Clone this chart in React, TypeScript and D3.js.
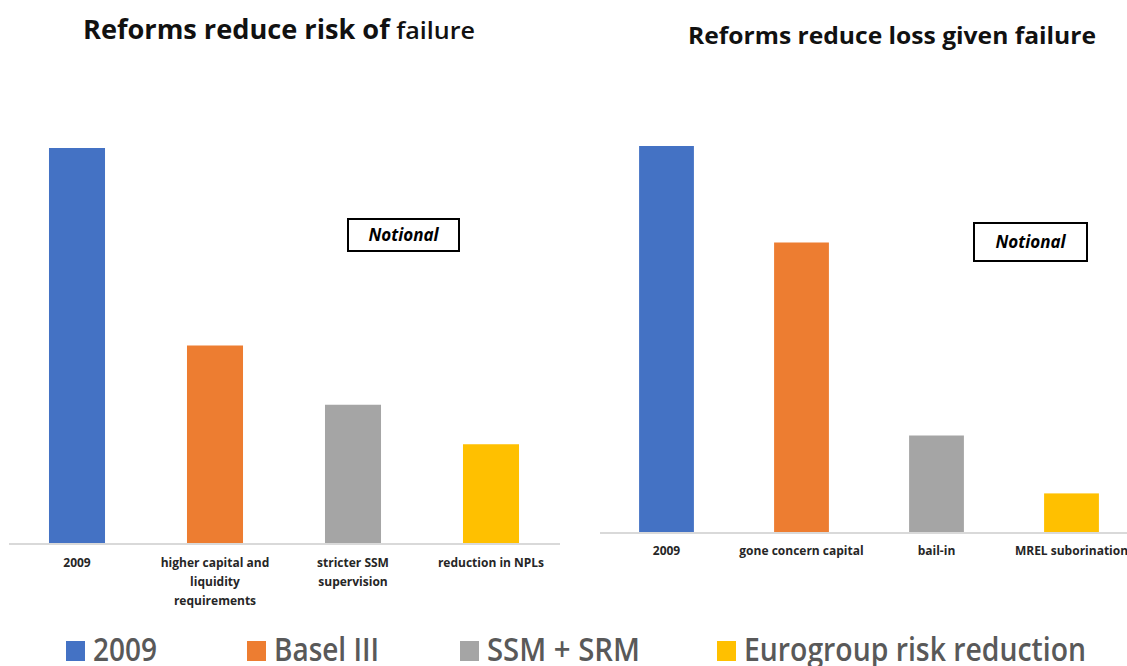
import { useMemo } from 'react';
import * as d3 from 'd3';

// Left panel: risk of failure (notional units, 2009 = 100)
const riskCategories = ['2009', 'higher capital and|liquidity|requirements', 'stricter SSM|supervision', 'reduction in NPLs'];
const riskValues = [100, 50, 35, 25];

// Right panel: loss given failure (notional units, 2009 = 100)
const lossCategories = ['2009', 'gone concern capital', 'bail-in', 'MREL suborination'];
const lossValues = [100, 75, 25, 10];

const seriesNames = ['2009', 'Basel III', 'SSM + SRM', 'Eurogroup risk reduction'];
const seriesColors = ['#4472C4', '#ED7D31', '#A5A5A5', '#FFC000'];

const W = 1127;
const H = 666;
const FONT = "'Open Sans', 'DejaVu Sans', sans-serif";

interface PanelProps {
  categories: string[];
  values: number[];
  x0: number;
  x1: number;
  base: number;
  top: number;
  labelY: number;
  title: React.ReactNode;
  titleX: number;
  titleY: number;
  titleWidth: number;
  titleSize: number;
  box: { x: number; y: number; w: number; h: number };
}

function Panel({ categories, values, x0, x1, base, top, labelY, title, titleX, titleY, titleWidth, titleSize, box }: PanelProps) {
  const x = useMemo(
    () => d3.scaleBand<string>().domain(categories).range([x0, x1]).paddingInner(0.594).paddingOuter(0.297),
    [categories, x0, x1]
  );
  const y = useMemo(() => d3.scaleLinear().domain([0, 100]).range([base, top]), [base, top]);

  return (
    <g>
      <text
        x={titleX}
        y={titleY}
        fontFamily={FONT}
        fontWeight={700}
        fontSize={titleSize}
        fill="#111"
        textLength={titleWidth}
        lengthAdjust="spacingAndGlyphs"
      >
        {title}
      </text>

      {categories.map((c, i) => (
        <rect
          key={c}
          x={x(c)}
          y={y(values[i])}
          width={x.bandwidth()}
          height={base - y(values[i])}
          fill={seriesColors[i]}
        />
      ))}

      {/* category axis */}
      <line x1={x0 + 1} x2={Math.min(x1, W)} y1={base + 1} y2={base + 1} stroke="#d9d9d9" strokeWidth={2} />

      {categories.map((c) => {
        const lines = c.split('|');
        const cx = (x(c) ?? 0) + x.bandwidth() / 2;
        return (
          <text key={c} x={cx} y={labelY} textAnchor="middle" fontFamily={FONT} fontWeight={700} fontSize={12} fill="#262626">
            {lines.map((l, j) => (
              <tspan key={j} x={cx} dy={j === 0 ? 0 : 19}>
                {l}
              </tspan>
            ))}
          </text>
        );
      })}

      {/* Notional box */}
      <rect x={box.x} y={box.y} width={box.w} height={box.h} fill="#fff" stroke="#000" strokeWidth={2} />
      <text
        x={box.x + box.w / 2}
        y={box.y + box.h / 2 + 6}
        textAnchor="middle"
        fontFamily={FONT}
        fontWeight={700}
        fontStyle="italic"
        fontSize={17}
        fill="#000"
      >
        Notional
      </text>
    </g>
  );
}

const legendX = [66, 247, 460, 717];
const legendTextWidths = [64, 105, 153, 342];

export default function App() {
  return (
    <div style={{ position: 'absolute', left: 0, top: 0, width: W, height: H, overflow: 'hidden', background: '#fff' }}>
      <svg width={W} height={H} style={{ display: 'block' }}>
        <rect width={W} height={H} fill="#fff" />
        <Panel
          categories={riskCategories}
          values={riskValues}
          x0={8}
          x1={560}
          base={543}
          top={148}
          labelY={567}
          title={
            <>
              Reforms reduce risk of
              <tspan fontWeight={600} fontSize={24}> failure</tspan>
            </>
          }
          titleX={83}
          titleY={39}
          titleWidth={392}
          titleSize={26}
          box={{ x: 348, y: 219, w: 111, h: 32 }}
        />
        <Panel
          categories={lossCategories}
          values={lossValues}
          x0={599}
          x1={1139}
          base={532}
          top={146}
          labelY={555}
          title="Reforms reduce loss given failure"
          titleX={688}
          titleY={44}
          titleWidth={408}
          titleSize={24}
          box={{ x: 974, y: 223, w: 113, h: 38 }}
        />

        {seriesNames.map((s, i) => (
          <g key={s}>
            <rect x={legendX[i]} y={641} width={19} height={20} fill={seriesColors[i]} />
            <text
              x={legendX[i] + 27}
              y={661}
              fontFamily={FONT}
              fontWeight={600}
              fontSize={33}
              fill="#595959"
              textLength={legendTextWidths[i]}
              lengthAdjust="spacingAndGlyphs"
            >
              {s}
            </text>
          </g>
        ))}
      </svg>
    </div>
  );
}
